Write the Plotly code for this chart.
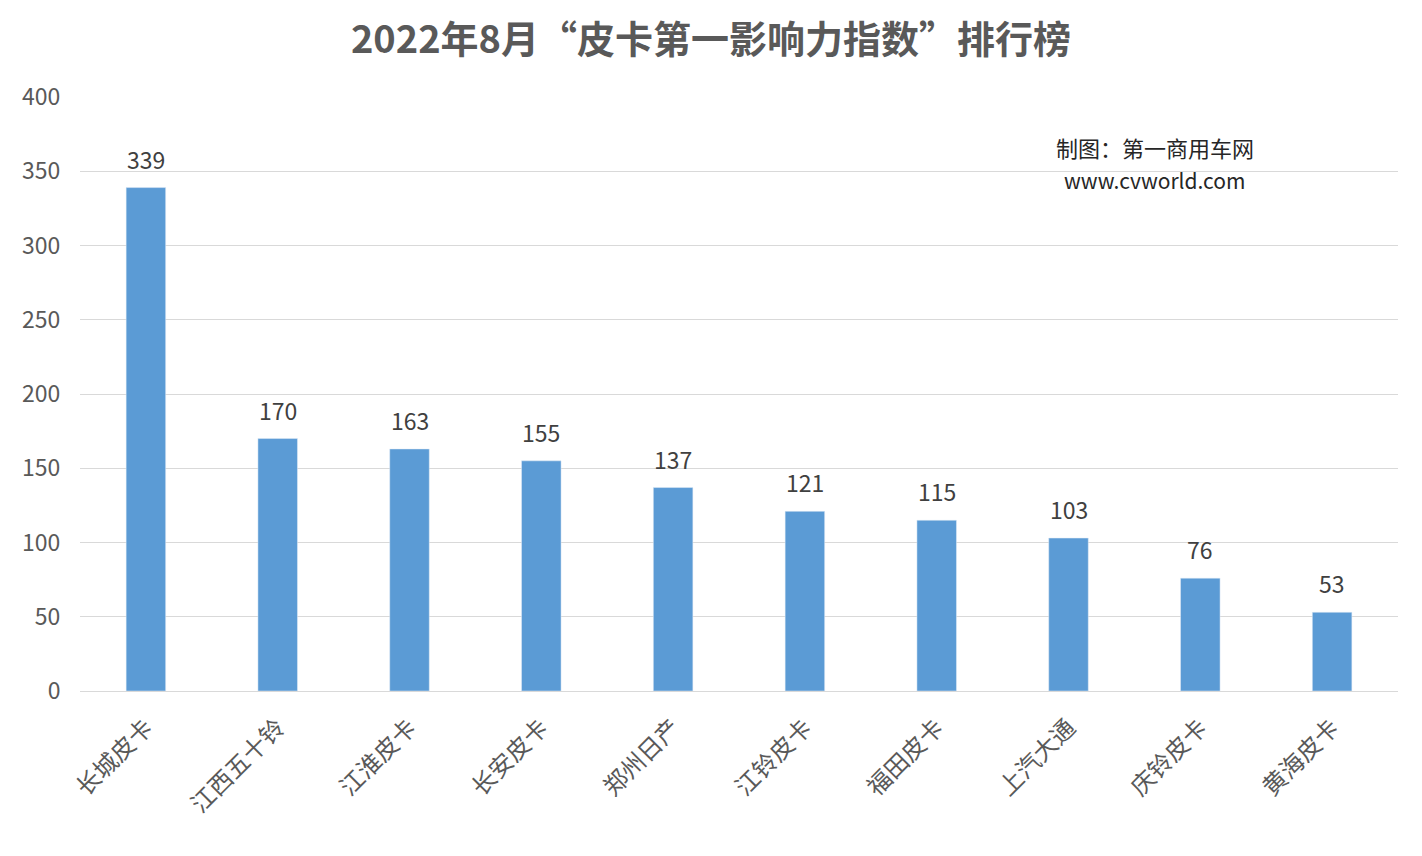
import plotly.graph_objects as go

brands = ['长城皮卡', '江西五十铃', '江淮皮卡', '长安皮卡', '郑州日产',
          '江铃皮卡', '福田皮卡', '上汽大通', '庆铃皮卡', '黄海皮卡']
scores = [339, 170, 163, 155, 137, 121, 115, 103, 76, 53]
y_ticks = [0, 50, 100, 150, 200, 250, 300, 350, 400]

# the page puts an 8px body margin around the figure
off = 8
W, H = 1422 - 2 * off, 856 - 2 * off
ml, mr, mt, mb = 80 - off, 24 - off, 97 - off, 165 - off
pw, ph = W - ml - mr, H - mt - mb

font = 'Noto Sans CJK SC'
grey = '#595959'

fig = go.Figure(go.Bar(x=brands, y=scores, marker_color='#5b9bd5'))

labels = [dict(x=b, y=v, text=str(v), showarrow=False, yanchor='middle', yshift=29,
               font=dict(size=23, color='#404040', family=font))
          for b, v in zip(brands, scores)]

labels += [
    dict(text='制图：第一商用车网', xref='paper', yref='paper', xanchor='center',
         x=(1155 - off - ml) / pw, y=(H - mb - (129 - off)) / ph, showarrow=False,
         font=dict(size=22, color='#262626', family=font)),
    dict(text='www.cvworld.com', xref='paper', yref='paper', xanchor='center',
         x=(1155 - off - ml) / pw, y=(H - mb - (163 - off)) / ph, showarrow=False,
         font=dict(size=21, color='#262626', family=font)),
]

fig.update_layout(
    width=W, height=H,
    margin=dict(l=ml, r=mr, t=mt, b=mb, autoexpand=False),
    paper_bgcolor='white', plot_bgcolor='white',
    bargap=0.7, showlegend=False,
    title=dict(text='<b>2022年8月“皮卡第一影响力指数”排行榜</b>',
               x=0.5, xanchor='center', y=1 - (40 - off) / H, yanchor='middle',
               font=dict(size=38, color=grey, family=font)),
    xaxis=dict(tickangle=-45, tickfont=dict(size=24, color=grey, family=font),
               showline=True, linecolor='#d9d9d9', ticks='', ticklabelstandoff=12),
    yaxis=dict(range=[0, 400], tickvals=y_ticks, gridcolor='#d9d9d9',
               tickfont=dict(size=23, color=grey, family=font),
               zeroline=False, ticks='outside', ticklen=14, tickcolor='white'),
    annotations=labels,
)

fig.write_html('out.html')
